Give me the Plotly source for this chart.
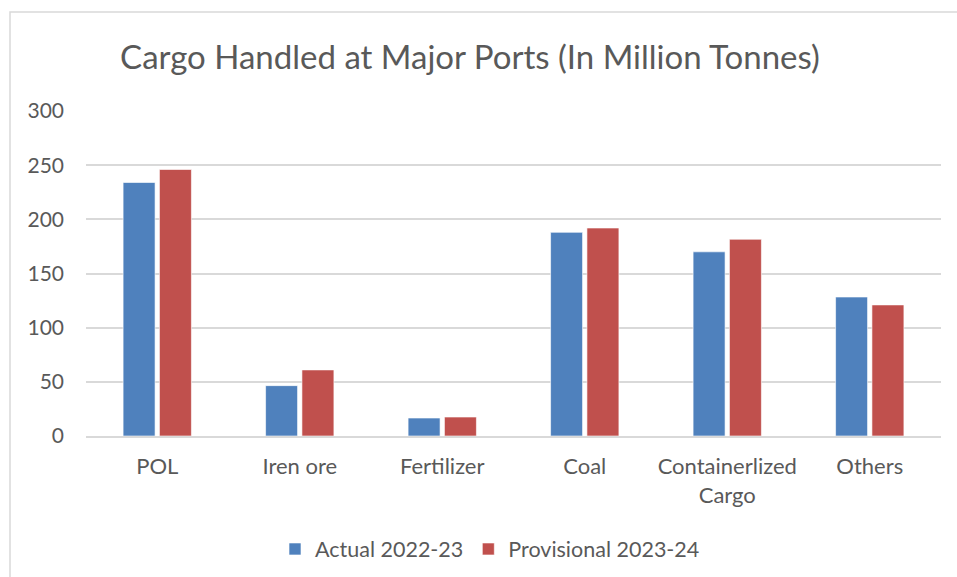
import plotly.graph_objects as go

categories = ["POL", "Iren ore", "Fertilizer", "Coal", "Containerlized<br>Cargo", "Others"]
actual_2022_23 = [234, 46.5, 16.6, 188, 170, 128.3]
provisional_2023_24 = [246, 61, 17.5, 192, 181.6, 121]
y_ticks = [0, 50, 100, 150, 200, 250, 300]

FONT = "Lato"
TXT = "#595959"

fig = go.Figure()
fig.add_trace(go.Bar(x=categories, y=actual_2022_23, name="Actual 2022-23",
                     marker=dict(color="#4F81BD", line=dict(color="rgba(255,255,255,0.6)", width=1))))
fig.add_trace(go.Bar(x=categories, y=provisional_2023_24, name="Provisional 2023-24",
                     marker=dict(color="#C0504D", line=dict(color="rgba(255,255,255,0.6)", width=1))))

L, R, T, B = 86, 16, 111, 141
W, H = 957, 577
pw = W - L - R
ph = H - T - B

def px_x(x):
    return (x - L) / pw

def px_y(y):
    return (H - B - y) / ph

fig.update_layout(
    width=W, height=H,
    margin=dict(l=L, r=R, t=T, b=B, pad=0, autoexpand=False),
    paper_bgcolor="white", plot_bgcolor="white",
    barmode="group", bargap=0.49, bargroupgap=0.12,
    font=dict(family=FONT, color=TXT, size=21),
    title=dict(text="Cargo Handled at Major Ports (In Million Tonnes)",
               x=470 / W, xanchor="center", y=1 - 57 / H, yanchor="middle",
               font=dict(family=FONT, size=33, color=TXT)),
    legend=dict(orientation="h", x=px_x(490), xanchor="center", y=px_y(549), yanchor="middle",
                font=dict(family=FONT, size=21.5, color=TXT), itemwidth=30,
                traceorder="normal"),
    showlegend=True,
    shapes=[dict(type="rect", xref="paper", yref="paper",
                 x0=px_x(10), x1=px_x(1010), y0=px_y(640), y1=px_y(12),
                 line=dict(color="#d9d9d9", width=1.5), fillcolor="rgba(0,0,0,0)", layer="below")],
)
fig.update_yaxes(range=[0, 300], tickvals=y_ticks, showgrid=True, gridcolor="#d9d9d9", gridwidth=1.5,
                 zeroline=False, showline=False, ticks="", ticklabelstandoff=21, automargin=False,
                 tickfont=dict(family=FONT, size=21, color=TXT), fixedrange=True)
fig.update_xaxes(showline=True, linecolor="#d9d9d9", linewidth=1.5, ticks="", automargin=False,
                 tickfont=dict(family=FONT, size=22, color=TXT), ticklabelstandoff=10)

fig.write_html("out.html")
